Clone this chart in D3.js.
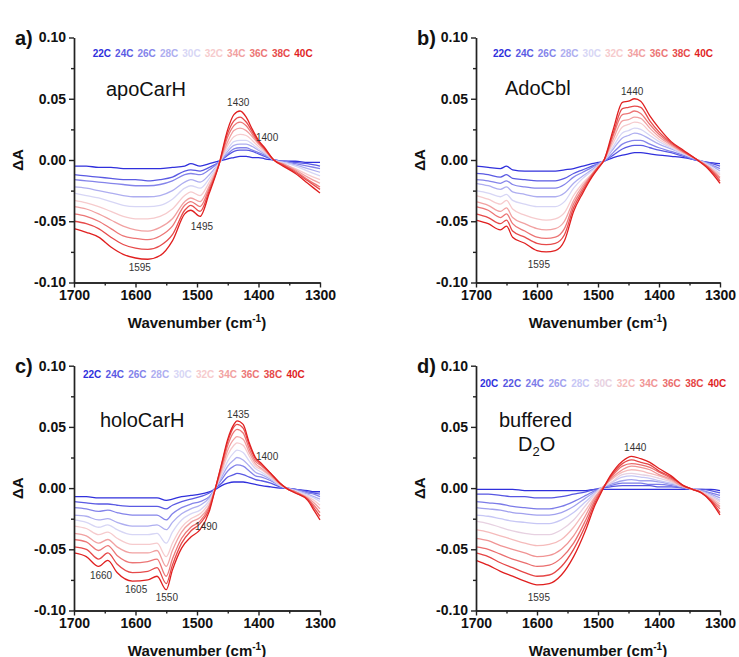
<!DOCTYPE html>
<html>
<head>
<meta charset="utf-8">
<script src="https://cdn.jsdelivr.net/npm/d3@7"></script>
<style>
  body { margin: 0; background: #fff; }
  svg { font-family: "Liberation Sans", Arial, sans-serif; }
</style>
</head>
<body>
<div id="chart"></div>
<script>
// temperatures (legend labels)
const tempsABC = ["22C", "24C", "26C", "28C", "30C", "32C", "34C", "36C", "38C", "40C"];
const tempsD = ["20C", "22C", "24C", "26C", "28C", "30C", "32C", "34C", "36C", "38C", "40C"];

// a) apoCarH
const wnA = [1700, 1680, 1660, 1640, 1620, 1600, 1580, 1560, 1540, 1520, 1510, 1495, 1480,
             1465, 1450, 1440, 1430, 1420, 1410, 1400, 1390, 1375, 1360, 1340, 1320, 1300];
const apoCarH = [
  [-.005,-.005,-.006,-.006,-.007, -.007,-.007,-.007,-.006,-.005, -.003,-.005,-.003,-.001,.001, .002,.003,.003,.002,.002, .001,.000,-.001,-.001,-.002, -.002],
  [-.012,-.013,-.014,-.015,-.016, -.016,-.017,-.016,-.014,-.009, -.008,-.009,-.006,-.002,.004, .007,.008,.008,.007,.005, .003,.000,-.001,-.002,-.003, -.005],
  [-.016,-.017,-.018,-.019,-.020, -.021,-.021,-.020,-.017,-.012, -.011,-.012,-.008,-.002,.005, .009,.010,.010,.008,.006, .004,.000,-.001,-.003,-.005, -.007],
  [-.022,-.023,-.025,-.027,-.029, -.030,-.030,-.029,-.025,-.018, -.016,-.018,-.012,-.003,.007, .012,.013,.013,.011,.008, .005,.000,-.002,-.004,-.007, -.010],
  [-.027,-.029,-.031,-.034,-.037, -.038,-.038,-.037,-.032,-.023, -.021,-.023,-.015,-.003,.009, .015,.016,.016,.013,.009, .006,.000,-.002,-.005,-.009, -.013],
  [-.033,-.035,-.038,-.042,-.046, -.048,-.048,-.046,-.040,-.029, -.026,-.029,-.018,-.004,.012, .019,.021,.020,.016,.011, .007,.000,-.003,-.007,-.012, -.016],
  [-.038,-.040,-.044,-.049,-.054, -.057,-.058,-.055,-.048,-.034, -.031,-.034,-.021,-.004,.015, .024,.026,.024,.019,.013, .008,.000,-.003,-.008,-.014, -.019],
  [-.044,-.046,-.050,-.056,-.062, -.064,-.065,-.062,-.054,-.037, -.034,-.038,-.023,-.005,.019, .028,.031,.028,.021,.014, .009,.000,-.004,-.009,-.016, -.022],
  [-.050,-.052,-.056,-.063,-.069, -.072,-.073,-.070,-.061,-.041, -.037,-.042,-.025,-.005,.022, .032,.035,.031,.023,.015, .009,.000,-.004,-.010,-.017, -.024],
  [-.056,-.059,-.063,-.071,-.077, -.080,-.081,-.078,-.066,-.044, -.041,-.046,-.027,-.005,.025, .037,.040,.035,.025,.016, .010,.000,-.005,-.011,-.019, -.027]
];
const notesA = [["1430", 1433, 0.047], ["1400", 1386, 0.018], ["1495", 1492, -0.054], ["1595", 1593, -0.088]];

// b) AdoCbl
const wnB = [1700, 1680, 1660, 1650, 1640, 1620, 1600, 1585, 1570, 1555, 1540, 1525, 1510, 1500,
             1490, 1475, 1460, 1450, 1440, 1430, 1415, 1400, 1380, 1360, 1340, 1320, 1300];
const adoCbl = [
  [-.005,-.006,-.007,-.005,-.008, -.009,-.009,-.009,-.009,-.008, -.007,-.005,-.003,-.002,-.001, .002,.004,.005,.006,.006, .005,.004,.003,.002,.000, -.002,-.003],
  [-.011,-.012,-.014,-.012,-.015, -.016,-.017,-.017,-.017,-.015, -.011,-.008,-.005,-.003,-.001, .004,.009,.011,.012,.012, .010,.008,.006,.003,.000, -.002,-.005],
  [-.016,-.017,-.019,-.017,-.020, -.022,-.023,-.023,-.023,-.020, -.014,-.010,-.006,-.003,-.001, .006,.013,.015,.016,.016, .013,.010,.007,.004,.000, -.003,-.007],
  [-.019,-.021,-.024,-.022,-.026, -.028,-.030,-.030,-.030,-.027, -.019,-.013,-.008,-.004,.000, .009,.018,.020,.022,.021, .017,.013,.009,.005,.001, -.003,-.009],
  [-.025,-.027,-.030,-.028,-.033, -.036,-.038,-.038,-.038,-.034, -.023,-.015,-.009,-.005,.000, .011,.022,.024,.026,.025, .020,.015,.010,.005,.001, -.004,-.011],
  [-.029,-.032,-.036,-.033,-.040, -.045,-.048,-.049,-.048,-.043, -.029,-.019,-.011,-.005,.000, .014,.027,.029,.031,.030, .023,.017,.011,.006,.001, -.005,-.012],
  [-.034,-.037,-.042,-.039,-.047, -.052,-.056,-.057,-.056,-.050, -.033,-.021,-.012,-.006,.000, .017,.032,.033,.035,.034, .026,.019,.012,.006,.001, -.005,-.014],
  [-.038,-.041,-.047,-.044,-.052, -.058,-.063,-.064,-.063,-.056, -.036,-.023,-.012,-.006,.000, .020,.037,.038,.040,.038, .029,.021,.013,.007,.001, -.006,-.015],
  [-.044,-.047,-.052,-.049,-.058, -.063,-.068,-.069,-.068,-.061, -.039,-.025,-.013,-.006,.000, .022,.042,.043,.044,.043, .032,.023,.014,.007,.001, -.006,-.017],
  [-.049,-.052,-.057,-.054,-.063, -.068,-.074,-.075,-.074,-.066, -.042,-.027,-.014,-.007,.000, .025,.047,.048,.050,.048, .036,.026,.015,.008,.001, -.007,-.019]
];
const notesB = [["1440", 1444, 0.056], ["1595", 1597, -0.085]];

// c) holoCarH
const wnC = [1700, 1680, 1660, 1645, 1630, 1605, 1580, 1565, 1550, 1540, 1525, 1510, 1495, 1480, 1470,
             1460, 1450, 1440, 1435, 1425, 1415, 1405, 1395, 1380, 1365, 1355, 1340, 1320, 1310, 1300];
const holoCarH = [
  [-.007,-.007,-.008,-.008,-.008, -.008,-.008,-.008,-.010,-.009, -.007,-.006,-.005,-.003,-.001, .002,.004,.005,.005,.005, .004,.003,.002,.001,.000, .000,-.001,-.002,-.003,-.003],
  [-.011,-.012,-.013,-.013,-.014, -.015,-.015,-.015,-.017,-.014, -.011,-.009,-.007,-.004,.000, .004,.009,.011,.012,.011, .009,.007,.006,.004,.001, .000,-.001,-.003,-.004,-.005],
  [-.016,-.017,-.019,-.018,-.020, -.022,-.022,-.022,-.026,-.021, -.016,-.013,-.011,-.007,.000, .007,.014,.018,.019,.018, .014,.010,.009,.006,.002, .000,-.001,-.004,-.005,-.007],
  [-.022,-.023,-.026,-.025,-.028, -.031,-.031,-.030,-.034,-.028, -.021,-.017,-.014,-.008,.000, .009,.018,.023,.025,.023, .018,.013,.011,.007,.002, .000,-.002,-.005,-.007,-.009],
  [-.026,-.028,-.032,-.030,-.034, -.038,-.038,-.037,-.045,-.036, -.026,-.021,-.018,-.010,.000, .011,.022,.029,.031,.029, .022,.016,.013,.008,.002, .000,-.002,-.006,-.008,-.011],
  [-.031,-.033,-.038,-.036,-.041, -.046,-.046,-.045,-.056,-.045, -.032,-.025,-.021,-.012,.000, .013,.027,.035,.037,.035, .026,.018,.015,.009,.003, .000,-.003,-.007,-.010,-.014],
  [-.037,-.039,-.045,-.042,-.048, -.053,-.053,-.051,-.064,-.051, -.036,-.028,-.024,-.014,.000, .015,.031,.040,.042,.040, .029,.020,.016,.010,.003, .000,-.003,-.008,-.012,-.017],
  [-.042,-.044,-.051,-.047,-.055, -.061,-.060,-.058,-.072,-.058, -.041,-.032,-.027,-.015,.000, .017,.035,.046,.048,.045, .032,.022,.018,.011,.004, .000,-.003,-.009,-.014,-.020],
  [-.048,-.050,-.058,-.053,-.062, -.069,-.068,-.065,-.078,-.063, -.045,-.035,-.029,-.017,.000, .019,.038,.050,.052,.049, .035,.024,.019,.012,.004, .000,-.004,-.009,-.016,-.023],
  [-.053,-.056,-.064,-.059,-.069, -.076,-.075,-.072,-.083,-.067, -.049,-.040,-.034,-.019,.000, .020,.040,.052,.055,.052, .037,.025,.020,.012,.004, .000,-.004,-.010,-.018,-.026]
];
const notesC = [["1435", 1433, 0.060], ["1400", 1386, 0.026], ["1490", 1485, -0.031],
                ["1660", 1656, -0.071], ["1605", 1599, -0.083], ["1550", 1549, -0.089]];

// d) buffered D2O
const wnD = [1700, 1680, 1660, 1640, 1620, 1600, 1580, 1560, 1540, 1520, 1505, 1495,
             1480, 1460, 1445, 1430, 1415, 1400, 1380, 1360, 1345, 1330, 1315, 1300];
const bufferD2O = [
  [-.001,-.001,-.001,-.001,-.002, -.002,-.002,-.002,-.002,-.002, -.001,-.001,-.001,-.001,-.001, -.001,-.001,-.001,-.001,-.001, -.001,-.001,-.001,-.002],
  [-.005,-.005,-.006,-.007,-.007, -.008,-.008,-.007,-.005,-.003, -.001,.000,.001,.002,.002, .002,.002,.001,.001,.000, -.001,-.001,-.002,-.004],
  [-.011,-.012,-.013,-.015,-.016, -.017,-.017,-.015,-.011,-.006, -.002,.000,.002,.004,.004, .004,.003,.003,.002,.000, -.001,-.002,-.004,-.006],
  [-.016,-.017,-.018,-.020,-.021, -.022,-.022,-.020,-.015,-.008, -.003,.000,.003,.006,.007, .006,.006,.005,.003,.001, -.001,-.002,-.005,-.008],
  [-.022,-.023,-.025,-.027,-.028, -.029,-.029,-.026,-.020,-.011, -.004,.000,.004,.009,.010, .009,.008,.006,.004,.001, -.001,-.003,-.006,-.010],
  [-.027,-.029,-.032,-.035,-.037, -.038,-.038,-.034,-.026,-.014, -.005,.000,.004,.011,.012, .011,.010,.008,.005,.001, -.001,-.003,-.007,-.011],
  [-.034,-.036,-.039,-.042,-.045, -.047,-.046,-.042,-.032,-.018, -.007,-.001,.006,.013,.015, .014,.012,.010,.006,.001, -.001,-.003,-.008,-.013],
  [-.041,-.043,-.047,-.050,-.053, -.056,-.055,-.050,-.039,-.022, -.008,-.001,.007,.015,.018, .017,.015,.011,.007,.001, -.001,-.004,-.009,-.015],
  [-.048,-.050,-.054,-.058,-.061, -.064,-.063,-.057,-.045,-.026, -.010,-.002,.008,.018,.020, .019,.017,.013,.008,.002, -.001,-.004,-.010,-.017],
  [-.053,-.056,-.061,-.065,-.069, -.072,-.071,-.064,-.050,-.030, -.012,-.003,.009,.020,.023, .021,.019,.014,.009,.002, -.001,-.004,-.010,-.020],
  [-.059,-.063,-.068,-.072,-.076, -.079,-.078,-.071,-.056,-.034, -.014,-.004,.010,.022,.026, .024,.021,.016,.010,.002, -.001,-.004,-.011,-.022]
];
const notesD = [["1440", 1439, 0.033], ["1595", 1597, -0.089]];

const yTicks = [-0.1, -0.05, 0, 0.05, 0.1];
const yMinor = [-0.075, -0.025, 0.025, 0.075];
const xTicks = [1700, 1600, 1500, 1400, 1300];
const xMinor = [1650, 1550, 1450, 1350];

const W = 739, H = 657;
const fmt = d3.formatLocale({ decimal: ".", thousands: ",", grouping: [3], currency: ["", ""], minus: "-" }).format(".2f");

// blue -> pale -> red, like the Origin palette
const ramp = d3.scaleLinear()
  .domain([0, 0.44, 0.56, 1])
  .range(["#3030dc", "#d6d6f7", "#f7cbcb", "#e01f1f"]);

const panels = [
  { tag: "a)", title: "apoCarH", wn: wnA, temps: tempsABC, rows: apoCarH, notes: notesA,
    x0: 74, x1: 320, y0: 37.5, y1: 282.5, legX: 92.7, legY: 56.5, legStep: 22.4, titleX: 106, titleY: 96 },
  { tag: "b)", title: "AdoCbl", wn: wnB, temps: tempsABC, rows: adoCbl, notes: notesB,
    x0: 476, x1: 720, y0: 37.5, y1: 282.5, legX: 493, legY: 56.5, legStep: 22.4, titleX: 505, titleY: 95 },
  { tag: "c)", title: "holoCarH", wn: wnC, temps: tempsABC, rows: holoCarH, notes: notesC,
    x0: 74, x1: 320, y0: 365.7, y1: 610.5, legX: 83, legY: 377.5, legStep: 22.6, titleX: 100, titleY: 426.5 },
  { tag: "d)", title: "buffered", wn: wnD, temps: tempsD, rows: bufferD2O, notes: notesD,
    x0: 476, x1: 720, y0: 365.7, y1: 610.5, legX: 480, legY: 386.5, legStep: 22.8, titleX: 499, titleY: 426.5 }
];

const svg = d3.select("#chart").append("svg").attr("width", W).attr("height", H);
svg.append("rect").attr("width", W).attr("height", H).attr("fill", "#fff");

panels.forEach((p) => {
  const x = d3.scaleLinear().domain([1700, 1300]).range([p.x0, p.x1]);
  const y = d3.scaleLinear().domain([-0.1, 0.1]).range([p.y1, p.y0]);
  const g = svg.append("g");
  const n = p.rows.length;
  const col = (i) => ramp(i / (n - 1));

  // curves
  const line = d3.line()
    .x((d, i) => x(p.wn[i]))
    .y((d) => y(d))
    .curve(d3.curveMonotoneX);

  g.selectAll("path.curve")
    .data(p.rows)
    .enter()
    .append("path")
    .attr("class", "curve")
    .attr("d", line)
    .attr("fill", "none")
    .attr("stroke", (d, i) => col(i))
    .attr("stroke-width", 1.3);

  // axes
  const yAxis = g.append("g").attr("transform", `translate(${p.x0},0)`)
    .call(d3.axisLeft(y).tickValues(yTicks).tickFormat(fmt).tickSize(5).tickSizeOuter(0));
  g.append("g").attr("transform", `translate(${p.x0},0)`)
    .call(d3.axisLeft(y).tickValues(yMinor).tickFormat("").tickSize(3).tickSizeOuter(0));
  const xAxis = g.append("g").attr("transform", `translate(0,${p.y1})`)
    .call(d3.axisBottom(x).tickValues(xTicks).tickFormat(d3.format("d")).tickSize(5).tickSizeOuter(0));
  g.append("g").attr("transform", `translate(0,${p.y1})`)
    .call(d3.axisBottom(x).tickValues(xMinor).tickFormat("").tickSize(3).tickSizeOuter(0));

  g.selectAll(".domain, .tick line").attr("stroke", "#222").attr("stroke-width", 1.4);
  g.selectAll(".tick text").attr("fill", "#111").style("font-size", "14px").style("font-weight", "bold")
    .style("font-family", "'Liberation Sans', Arial, sans-serif");

  // axis titles
  g.append("text")
    .attr("transform", `translate(${p.x0 - 56},${(p.y0 + p.y1) / 2}) rotate(-90)`)
    .attr("text-anchor", "middle")
    .attr("dy", "0.35em")
    .style("font-size", "15px").style("font-weight", "bold").attr("fill", "#111")
    .text("ΔA");

  const xt = g.append("text")
    .attr("x", (p.x0 + p.x1) / 2)
    .attr("y", p.y1 + 45)
    .attr("text-anchor", "middle")
    .style("font-size", "15px").style("font-weight", "bold").attr("fill", "#111");
  xt.append("tspan").text("Wavenumber (cm");
  xt.append("tspan").attr("dy", -6).style("font-size", "10px").text("-1");
  xt.append("tspan").attr("dy", 6).text(")");

  // panel tag
  g.append("text")
    .attr("x", p.x0 - 59)
    .attr("y", p.y0 + 7)
    .style("font-size", "20px").style("font-weight", "bold").attr("fill", "#111")
    .text(p.tag);

  // legend
  g.selectAll("text.leg")
    .data(p.temps)
    .enter()
    .append("text")
    .attr("class", "leg")
    .attr("x", (d, i) => p.legX + i * p.legStep)
    .attr("y", p.legY)
    .style("font-size", "10px").style("font-weight", "bold")
    .attr("fill", (d, i) => col(i))
    .text((d) => d);

  // sample title
  g.append("text")
    .attr("x", p.titleX)
    .attr("y", p.titleY)
    .style("font-size", "20px").attr("fill", "#111")
    .text(p.title);
  if (p.tag === "d)") {
    const t2 = g.append("text")
      .attr("x", p.titleX + 19)
      .attr("y", p.titleY + 24)
      .style("font-size", "20px").attr("fill", "#111");
    t2.append("tspan").text("D");
    t2.append("tspan").attr("dy", 5).style("font-size", "13px").text("2");
    t2.append("tspan").attr("dy", -5).text("O");
  }

  // peak annotations
  g.selectAll("text.note")
    .data(p.notes)
    .enter()
    .append("text")
    .attr("class", "note")
    .attr("x", (d) => x(d[1]))
    .attr("y", (d) => y(d[2]))
    .attr("dy", "0.35em")
    .attr("text-anchor", "middle")
    .style("font-size", "10px").attr("fill", "#333")
    .text((d) => d[0]);
});
</script>
</body>
</html>
